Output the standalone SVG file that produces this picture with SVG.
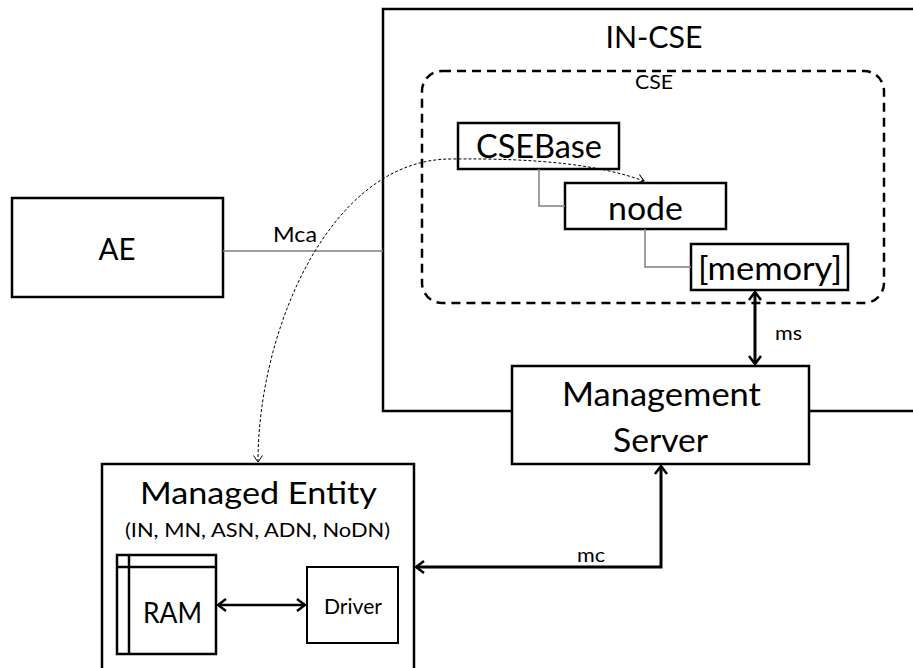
<svg xmlns="http://www.w3.org/2000/svg" width="913" height="668" viewBox="0 0 913 668">
<defs>
<style>
text{font-family:Lato,"Open Sans","Liberation Sans",sans-serif;fill:#000;text-anchor:middle}
.box{fill:#fff;stroke:#000;stroke-width:2.5}
.thin{fill:#fff;stroke:#000;stroke-width:2}
.tree{fill:none;stroke:#7f7f7f;stroke-width:1.5}
.big{font-size:32px}
.lbl{font-size:20px}
.arr{fill:none;stroke:#000;stroke-width:3}
.arr2{fill:none;stroke:#000;stroke-width:2.5}
</style>
<marker id="ah" viewBox="0 0 10 14" refX="9" refY="7" markerWidth="10" markerHeight="14" markerUnits="userSpaceOnUse" orient="auto-start-reverse">
<path d="M1,1 L9,7 L1,13" fill="none" stroke="#000" stroke-width="2.5"/>
</marker>
<marker id="ahs" viewBox="0 0 8 10" refX="7" refY="5" markerWidth="8" markerHeight="10" markerUnits="userSpaceOnUse" orient="auto-start-reverse">
<path d="M0.5,0.5 L7,5 L0.5,9.5" fill="none" stroke="#000" stroke-width="1"/>
</marker>
</defs>

<g id="in-cse">
<rect class="box" x="383" y="9" width="600" height="402"/>
<text x="654" y="48" style="font-size:31px" textLength="97" lengthAdjust="spacingAndGlyphs">IN-CSE</text>
</g>

<g id="cse">
<rect x="422" y="71" width="462" height="232" rx="20" ry="20" fill="none" stroke="#000" stroke-width="2.5" stroke-dasharray="9,6"/>
<text x="654" y="89" style="font-size:18.5px" textLength="38" lengthAdjust="spacingAndGlyphs">CSE</text>
</g>

<g id="cseBase">
<rect class="box" x="458" y="123" width="161" height="46"/>
<text class="big" x="539" y="158" textLength="126" lengthAdjust="spacingAndGlyphs">CSEBase</text>
</g>

<g id="node">
<rect class="box" x="565" y="183" width="161" height="46"/>
<text class="big" x="645.5" y="220" textLength="75" lengthAdjust="spacingAndGlyphs">node</text>
</g>

<g id="memory">
<rect class="box" x="691" y="244" width="157" height="46"/>
<text x="770" y="280" style="font-size:33px" textLength="144" lengthAdjust="spacingAndGlyphs">[memory]</text>
</g>

<g id="ae">
<rect class="box" x="12" y="198" width="211" height="99"/>
<text x="117" y="260" style="font-size:31px" textLength="37" lengthAdjust="spacingAndGlyphs">AE</text>
</g>

<g id="management-server">
<rect class="box" x="512" y="366" width="297" height="98"/>
<text x="661.5" y="406" style="font-size:33px" textLength="199" lengthAdjust="spacingAndGlyphs">Management</text>
<text x="660.5" y="452" style="font-size:33px" textLength="95" lengthAdjust="spacingAndGlyphs">Server</text>
</g>

<g id="managed-entity">
<rect class="box" x="102" y="464" width="312" height="260"/>
<text x="258.5" y="504" style="font-size:30px" textLength="237" lengthAdjust="spacingAndGlyphs">Managed Entity</text>
<text x="257.5" y="537" style="font-size:18.5px" textLength="265" lengthAdjust="spacingAndGlyphs">(IN, MN, ASN, ADN, NoDN)</text>
</g>

<g id="ram">
<rect class="box" x="117" y="555" width="99" height="99"/>
<line x1="129" y1="555" x2="129" y2="654" stroke="#000" stroke-width="2.5"/>
<line x1="117" y1="567" x2="216" y2="567" stroke="#000" stroke-width="2.5"/>
<text x="172.5" y="623" style="font-size:28px" textLength="59" lengthAdjust="spacingAndGlyphs">RAM</text>
</g>

<g id="driver">
<rect class="thin" x="307" y="567" width="91" height="76"/>
<text x="353" y="614" style="font-size:21px" textLength="58" lengthAdjust="spacingAndGlyphs">Driver</text>
</g>

<g id="connectors">
<path class="tree" d="M539,169 V206 H565"/>
<path class="tree" d="M645,229 V267 H691"/>
<line x1="223" y1="251" x2="383" y2="251" stroke="#7f7f7f" stroke-width="1.5"/>
<path class="arr" d="M755,292 V364" marker-start="url(#ah)" marker-end="url(#ah)"/>
<path class="arr" d="M661,466 V567 H416" marker-start="url(#ah)" marker-end="url(#ah)"/>
<path class="arr2" d="M218,605 H305" marker-start="url(#ah)" marker-end="url(#ah)"/>
<path d="M258,462 C258,330 330,160 450,159 C540,158 600,165 644,181" fill="none" stroke="#000" stroke-width="1" stroke-dasharray="3,2" marker-start="url(#ahs)" marker-end="url(#ahs)"/>
<text class="lbl" x="295" y="242" style="font-size:21px" textLength="44" lengthAdjust="spacingAndGlyphs">Mca</text>
<text class="lbl" x="788.5" y="340" textLength="27" lengthAdjust="spacingAndGlyphs">ms</text>
<text class="lbl" x="591" y="562" textLength="28" lengthAdjust="spacingAndGlyphs">mc</text>
</g>
</svg>
